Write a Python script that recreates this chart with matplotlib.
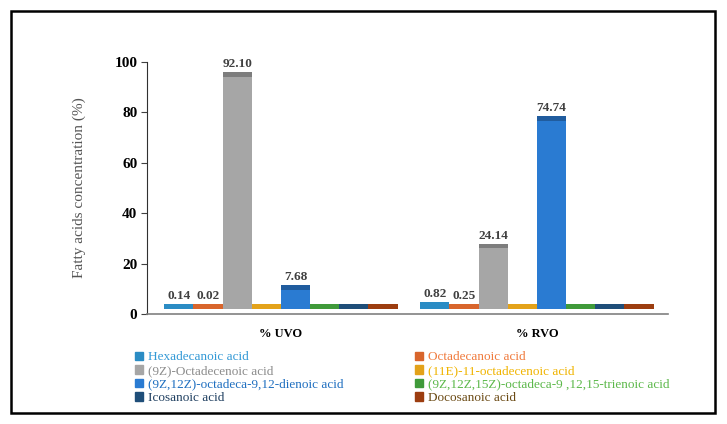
import matplotlib.pyplot as plt
import matplotlib.colors as mcolors
from matplotlib.patches import Rectangle, Patch
import numpy as np

groups = ["% UVO", "% RVO"]
acids = ["Hexadecanoic acid", "Octadecanoic acid", "(9Z)-Octadecenoic acid",
         "(11E)-11-octadecenoic acid", "(9Z,12Z)-octadeca-9,12-dienoic acid",
         "(9Z,12Z,15Z)-octadeca-9 ,12,15-trienoic acid", "Icosanoic acid",
         "Docosanoic acid"]
uvo = [0.14, 0.02, 92.10, 0, 7.68, 0, 0, 0]
rvo = [0.82, 0.25, 24.14, 0, 74.74, 0, 0, 0]
labels_uvo = ["0.14", "0.02", "92.10", "", "7.68", "", "", ""]
labels_rvo = ["0.82", "0.25", "24.14", "", "74.74", "", "", ""]

colors = ["#2b8cc4", "#d8652c", "#a6a6a6", "#e3a21a", "#2a7bd2", "#3f9a3a", "#1f4e79", "#9c3d10"]
text_colors = ["#3399d6", "#f07a3c", "#8c8c8c", "#f0b400", "#1f6fc0", "#5cb84a", "#1f3f60", "#6b4a14"]

plt.rcParams['font.family'] = ['Liberation Serif', 'DejaVu Serif']

fig = plt.figure(figsize=(7.27, 4.24), dpi=100)
ax = fig.add_axes([0.2022, 0.2594, 0.7166, 0.5943])

base = 2.0   # floor depth of the pseudo-3D look
cap = 1.8
w = 0.114
x = np.arange(len(groups))
vals = np.array([uvo, rvo])
labs = [labels_uvo, labels_rvo]

for i in range(len(acids)):
    pos = x + (i - 3.5) * w
    face = mcolors.to_rgb(colors[i])
    dark = tuple(c * 0.75 for c in face)
    h = vals[:, i]
    ax.bar(pos, h, w, bottom=base, color=colors[i], edgecolor='none')
    capc = [dark if v > 1 else face for v in h]
    ax.bar(pos, cap, w, bottom=base + h, color=capc, edgecolor='none')
    for g in range(len(groups)):
        if labs[g][i]:
            ax.text(pos[g], base + h[g] + cap + 0.8, labs[g][i], ha='center', va='bottom',
                    fontsize=9.5, fontweight='bold', color='#404040')

ax.set_xlim(-0.523, 1.512)
ax.set_ylim(0, 100)
ax.set_yticks([0, 20, 40, 60, 80, 100])
ax.set_xticks(x)
ax.set_xticklabels(groups, fontsize=9, fontweight='bold')
for t in ax.get_yticklabels():
    t.set_fontweight('bold')
    t.set_fontsize(11)
ax.tick_params(axis='x', length=0, pad=10)
ax.tick_params(axis='y', length=4, width=0.8, color='#404040', pad=3)
ax.spines['top'].set_visible(False)
ax.spines['right'].set_visible(False)
ax.spines['left'].set_color('#303030')
ax.spines['bottom'].set_color('#808080')
ax.spines['bottom'].set_linewidth(1.2)
ax.set_ylabel("Fatty acids concentration (%)", fontsize=11, color='#555555', labelpad=20)

handles = [Patch(color=c) for c in colors]
legend_kw = dict(loc='upper left', frameon=False, fontsize=9.5, handlelength=0.6,
                 handleheight=0.6, handletextpad=0.35, labelspacing=0.12, borderpad=0,
                 borderaxespad=0)
col1 = [0, 2, 4, 6]
col2 = [1, 3, 5, 7]
leg1 = fig.legend([handles[k] for k in col1], [acids[k] for k in col1],
                  bbox_to_anchor=(0.186, 0.171), labelcolor=[text_colors[k] for k in col1], **legend_kw)
leg2 = fig.legend([handles[k] for k in col2], [acids[k] for k in col2],
                  bbox_to_anchor=(0.571, 0.171), labelcolor=[text_colors[k] for k in col2], **legend_kw)

fig.patches.append(Rectangle((0.0151, 0.026), 0.968, 0.948, transform=fig.transFigure,
                             fill=False, edgecolor='black', linewidth=1.8))

plt.savefig('out.png', dpi=100)
